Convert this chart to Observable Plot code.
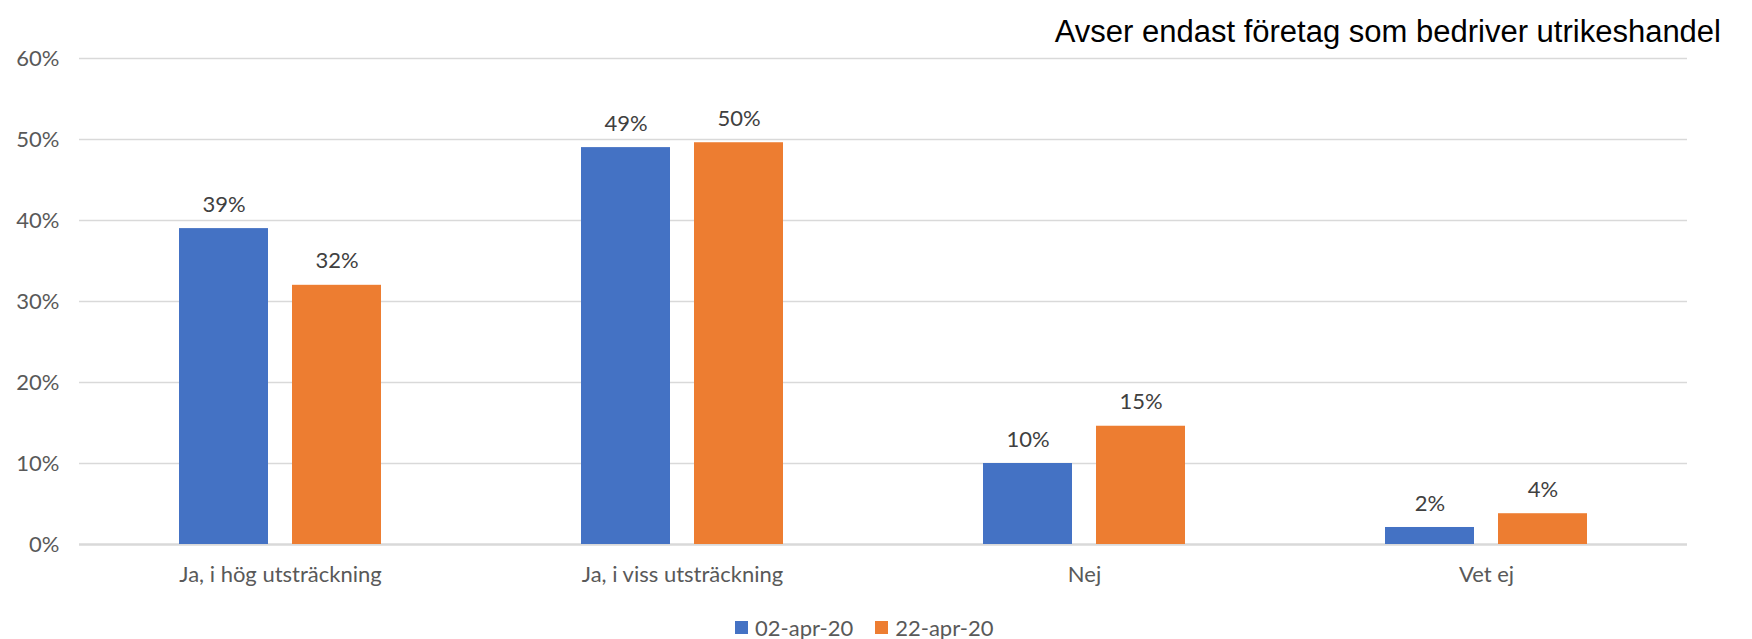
<!DOCTYPE html>
<html>
<head>
<meta charset="utf-8">
<script src="https://cdn.jsdelivr.net/npm/d3@7"></script>
<script src="https://cdn.jsdelivr.net/npm/@observablehq/plot@0.6"></script>
<style>
  html, body { margin: 0; padding: 0; background: #fff; }
  #wrap { position: relative; width: 1752px; height: 639px; overflow: hidden; }
  #title { position: absolute; right: 31px; top: 16px; font-family: "Liberation Sans", Arial, sans-serif; font-size: 31px; line-height: 31px; color: #000; white-space: nowrap; }
  #legend { position: absolute; left: 735px; top: 612px; height: 30px; }
  #legend > div { margin: 0 !important; min-height: 0 !important; height: 30px; }
  .lg-swatch > svg { margin-right: 7px !important; }
</style>
</head>
<body>
<div id="wrap">
  <div id="chart"></div>
  <div id="title">Avser endast företag som bedriver utrikeshandel</div>
  <div id="legend"></div>
</div>
<script>
const categories = ["Ja, i hög utsträckning", "Ja, i viss utsträckning", "Nej", "Vet ej"];
const series = ["02-apr-20", "22-apr-20"];
const values02apr = [0.39, 0.49, 0.10, 0.021];
const values22apr = [0.32, 0.496, 0.146, 0.038];
const seriesColors = ["#4472C4", "#ED7D31"];
const yTicks = [0, 0.1, 0.2, 0.3, 0.4, 0.5, 0.6];

const data = categories.flatMap((c, i) => [
  {cat: c, series: series[0], value: values02apr[i]},
  {cat: c, series: series[1], value: values22apr[i]}
]);
const pct = d3.format(".0%");

const chart = Plot.plot({
  width: 1752,
  height: 600,
  marginTop: 58,
  marginBottom: 56,
  marginLeft: 78,
  marginRight: 65,
  style: {fontFamily: "Lato, sans-serif", fontSize: "22px", color: "#595959", background: "white"},
  facet: {data, x: "cat"},
  fx: {domain: categories, padding: 0, label: null, tickSize: 0, tickPadding: 22, axis: "bottom"},
  x: {domain: series, paddingInner: 0.21, paddingOuter: 0.87, axis: null},
  y: {domain: [0, 0.6], ticks: yTicks, tickFormat: pct, tickSize: 0, tickPadding: 20, label: null},
  color: {domain: series, range: seriesColors},
  marks: [
    Plot.ruleY(yTicks.slice(1), {stroke: "#d9d9d9", strokeWidth: 1.5}),
    Plot.ruleY([0], {stroke: "#d9d9d9", strokeWidth: 2.5}),
    Plot.barY(data, {x: "series", y: "value", fill: "series"}),
    Plot.text(data, {x: "series", y: "value", text: d => pct(d.value), dy: -24, fill: "#404040", fontSize: 22})
  ]
});
document.getElementById("chart").appendChild(chart);

const legend = Plot.legend({
  color: {domain: series, range: seriesColors},
  swatchSize: 13,
  className: "lg",
  style: {fontFamily: "Lato, sans-serif", fontSize: "22px", color: "#595959"}
});
document.getElementById("legend").appendChild(legend);
</script>
</body>
</html>
